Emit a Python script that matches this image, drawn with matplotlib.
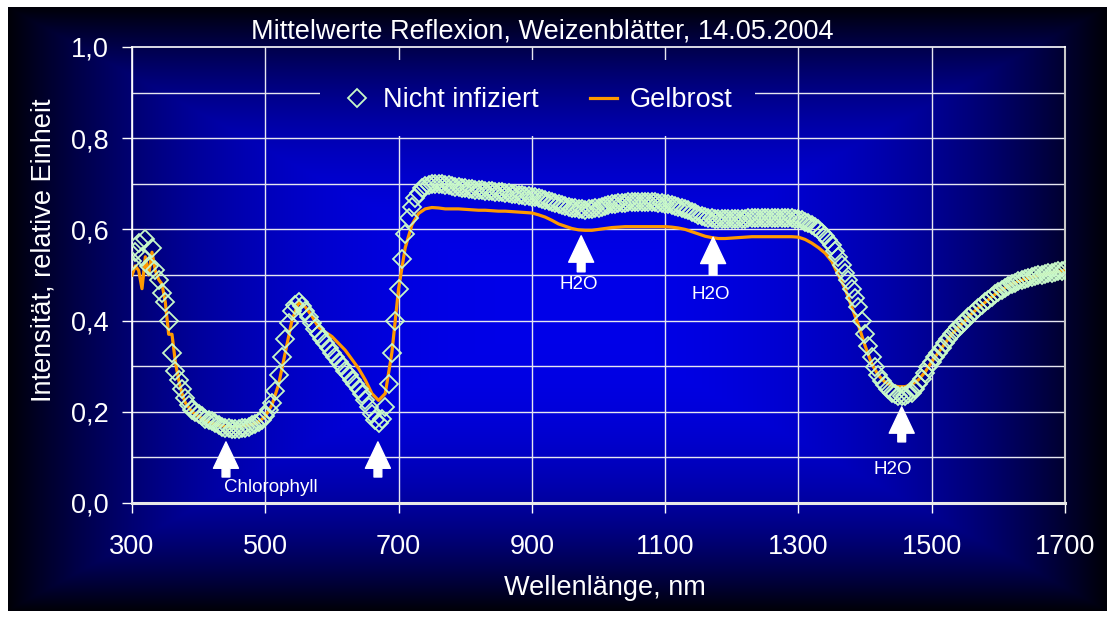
import numpy as np
import matplotlib
matplotlib.use("Agg")
import matplotlib.pyplot as plt
from matplotlib.path import Path

plt.rcParams['font.family'] = ['Liberation Sans', 'DejaVu Sans']

# Nicht infiziert: read every 5 nm from 300 to 1700 nm
wl_nicht = np.arange(300, 1701, 5)
nicht_infiziert = [
    0.53, 0.55, 0.57, 0.54, 0.58, 0.52, 0.56, 0.51, 0.49, 0.46,            # 300
    0.44, 0.40, 0.33, 0.29, 0.27, 0.25, 0.23, 0.215, 0.205, 0.20,          # 350
    0.195, 0.19, 0.185, 0.182, 0.18, 0.175, 0.17, 0.167, 0.165, 0.164,     # 400
    0.163, 0.163, 0.163, 0.164, 0.165, 0.167, 0.17, 0.174, 0.178, 0.183,   # 450
    0.19, 0.203, 0.22, 0.245, 0.28, 0.32, 0.36, 0.395, 0.42, 0.435,        # 500
    0.44, 0.432, 0.42, 0.408, 0.395, 0.382, 0.37, 0.36, 0.35, 0.34,        # 550
    0.33, 0.32, 0.31, 0.30, 0.29, 0.28, 0.27, 0.26, 0.25, 0.238,           # 600
    0.225, 0.21, 0.195, 0.182, 0.175, 0.185, 0.21, 0.26, 0.33, 0.40,       # 650
    0.47, 0.535, 0.59, 0.625, 0.65, 0.668, 0.68, 0.69, 0.695, 0.698,       # 700
    0.70, 0.70, 0.70, 0.699, 0.698, 0.697, 0.695, 0.694, 0.692, 0.691,     # 750
    0.69, 0.689, 0.688, 0.687, 0.686, 0.686, 0.685, 0.685, 0.684, 0.683,   # 800
    0.682, 0.681, 0.68, 0.679, 0.678, 0.677, 0.676, 0.675, 0.674, 0.673,   # 850
    0.672, 0.67, 0.668, 0.666, 0.664, 0.662, 0.66, 0.658, 0.656, 0.654,    # 900
    0.652, 0.65, 0.648, 0.646, 0.645, 0.644, 0.643, 0.644, 0.645, 0.646,   # 950
    0.648, 0.65, 0.652, 0.654, 0.655, 0.656, 0.657, 0.658, 0.658, 0.659,   # 1000
    0.659, 0.66, 0.66, 0.66, 0.66, 0.66, 0.66, 0.659, 0.658, 0.657,        # 1050
    0.656, 0.655, 0.654, 0.652, 0.65, 0.648, 0.645, 0.642, 0.638, 0.635,   # 1100
    0.632, 0.63, 0.627, 0.625, 0.624, 0.623, 0.622, 0.622, 0.622, 0.622,   # 1150
    0.622, 0.622, 0.622, 0.623, 0.623, 0.624, 0.624, 0.625, 0.625, 0.625,  # 1200
    0.625, 0.626, 0.626, 0.626, 0.626, 0.626, 0.625, 0.625, 0.624, 0.623,  # 1250
    0.622, 0.62, 0.617, 0.614, 0.61, 0.605, 0.60, 0.593, 0.585, 0.576,     # 1300
    0.565, 0.553, 0.54, 0.523, 0.505, 0.488, 0.47, 0.45, 0.43, 0.40,       # 1350
    0.37, 0.345, 0.32, 0.298, 0.28, 0.268, 0.258, 0.25, 0.242, 0.238,      # 1400
    0.235, 0.234, 0.235, 0.238, 0.242, 0.25, 0.26, 0.272, 0.285, 0.298,    # 1450
    0.31, 0.32, 0.33, 0.34, 0.35, 0.36, 0.37, 0.378, 0.385, 0.393,         # 1500
    0.40, 0.408, 0.415, 0.422, 0.428, 0.434, 0.44, 0.446, 0.452, 0.458,    # 1550
    0.463, 0.468, 0.472, 0.476, 0.48, 0.483, 0.486, 0.489, 0.491, 0.493,   # 1600
    0.495, 0.497, 0.499, 0.501, 0.502, 0.504, 0.505, 0.507, 0.508, 0.509,  # 1650
    0.51,                                                                  # 1700
]

# Gelbrost: 5 nm steps below 400, 10 nm steps above
wl_gelb = np.concatenate([np.arange(300, 400, 5), np.arange(400, 1701, 10)])
gelbrost = [
    0.50, 0.52, 0.51, 0.47, 0.54, 0.50, 0.55, 0.51, 0.49, 0.48,          # 300-345
    0.44, 0.37, 0.37, 0.31, 0.27, 0.24, 0.22, 0.21, 0.20, 0.195,         # 350-395
    0.19, 0.18, 0.175, 0.17, 0.168, 0.167, 0.168, 0.17, 0.172, 0.178,    # 400-490
    0.19, 0.215, 0.26, 0.33, 0.40, 0.44, 0.43, 0.41, 0.385, 0.375,       # 500-590
    0.365, 0.35, 0.335, 0.315, 0.295, 0.27, 0.24, 0.225, 0.24, 0.33,     # 600-690
    0.47, 0.56, 0.61, 0.635, 0.645, 0.648, 0.647, 0.645, 0.645, 0.645,   # 700-790
    0.644, 0.643, 0.642, 0.642, 0.641, 0.64, 0.64, 0.639, 0.638, 0.637,  # 800-890
    0.636, 0.632, 0.627, 0.62, 0.612, 0.607, 0.602, 0.599, 0.598, 0.598, # 900-990
    0.60, 0.602, 0.604, 0.605, 0.606, 0.606, 0.606, 0.606, 0.606, 0.606, # 1000-1090
    0.606, 0.605, 0.603, 0.60, 0.595, 0.59, 0.585, 0.582, 0.58, 0.58,    # 1100-1190
    0.581, 0.582, 0.583, 0.584, 0.584, 0.584, 0.584, 0.584, 0.584, 0.584, # 1200-1290
    0.583, 0.578, 0.57, 0.56, 0.548, 0.53, 0.50, 0.47, 0.43, 0.39,       # 1300-1390
    0.345, 0.305, 0.28, 0.265, 0.258, 0.255, 0.255, 0.26, 0.27, 0.287,   # 1400-1490
    0.31, 0.33, 0.35, 0.37, 0.385, 0.40, 0.415, 0.428, 0.44, 0.452,      # 1500-1590
    0.463, 0.472, 0.48, 0.486, 0.491, 0.495, 0.499, 0.502, 0.505, 0.508, # 1600-1690
    0.51,                                                                # 1700
]

x_ticks = [300, 500, 700, 900, 1100, 1300, 1500, 1700]
y_ticks = [0.0, 0.2, 0.4, 0.6, 0.8, 1.0]
y_ticklabels = ['0,0', '0,2', '0,4', '0,6', '0,8', '1,0']

# annotation arrows: (nm, tip value, tail value); labels: (text, nm, value)
arrows = [(441, 0.134, 0.057), (669, 0.134, 0.057), (974, 0.586, 0.507),
          (1172, 0.583, 0.50), (1455, 0.211, 0.134)]
labels = [('Chlorophyll', 509, 0.033), ('H2O', 971, 0.479),
          ('H2O', 1169, 0.457), ('H2O', 1441, 0.073)]

W, H = 1107, 621
fig = plt.figure(figsize=(W / 100, H / 100), dpi=100, facecolor='white')

# gradient background panel (bright blue centre, dark edges)
bg = fig.add_axes([8 / W, (H - 611) / H, (W - 8) / W, (611 - 7) / H], zorder=0)
gx = np.linspace(-1, 1, 600)
gy = np.linspace(-1, 1, 400)
U, V = np.meshgrid(gx, gy)
t = np.maximum(np.abs(U), np.abs(V))
b = 225 * (1 - t ** 2.5) + 8
img = np.zeros((400, 600, 3))
img[..., 2] = np.clip(b, 0, 255) / 255
bg.imshow(img, aspect='auto', extent=(0, 1, 0, 1), interpolation='bilinear')
bg.set_axis_off()

ax = fig.add_axes([132 / W, (H - 503) / H, (1065 - 132) / W, (503 - 47) / H], zorder=1)
ax.patch.set_alpha(0)

ax.plot(wl_gelb, gelbrost, color='#ff9900', lw=2.3, zorder=3, label='Gelbrost')
ax.plot(wl_nicht, nicht_infiziert, linestyle='none', marker='D', ms=9.3,
        mfc='none', mec='#c8f8c8', mew=1.3, zorder=4, label='Nicht infiziert')

ax.set_xlim(300, 1700)
ax.set_ylim(0, 1.0)
ax.set_xticks(x_ticks)
ax.set_yticks(y_ticks)
ax.set_yticklabels(y_ticklabels)
ax.tick_params(axis='both', colors='white', labelsize=19.5, length=7, width=1,
               direction='out')
ax.tick_params(axis='x', pad=15)
ax.tick_params(axis='y', pad=10)

for side in ['left', 'top']:
    ax.spines[side].set_color('white')
    ax.spines[side].set_linewidth(1.2)
ax.spines['right'].set_color('#c8c8c8')
ax.spines['right'].set_linewidth(1.5)
ax.spines['bottom'].set_color('#e8e8e8')
ax.spines['bottom'].set_linewidth(2.2)

# grid lines, with a gap where the legend sits
vl = ax.vlines(x_ticks, 0, 1, colors='#e6e6f0', lw=1, zorder=1)
hl = ax.hlines(np.arange(0.1, 1.0, 0.1), 300, 1700, colors='#e6e6f0', lw=1, zorder=1)
ox0, ox1, oy0, oy1 = 120 / W, 1080 / W, 1 - 515 / H, 1 - 40 / H
lx0, lx1, ly0, ly1 = 320 / W, 755 / W, 1 - 136 / H, 1 - 60 / H
verts = [(ox0, oy0), (ox1, oy0), (ox1, oy1), (ox0, oy1), (ox0, oy0),
         (lx0, ly0), (lx0, ly1), (lx1, ly1), (lx1, ly0), (lx0, ly0)]
codes = [Path.MOVETO, Path.LINETO, Path.LINETO, Path.LINETO, Path.CLOSEPOLY] * 2
clip = Path(verts, codes)
vl.set_clip_path(clip, fig.transFigure)
hl.set_clip_path(clip, fig.transFigure)

handles, labs = ax.get_legend_handles_labels()
fig.legend(handles[::-1], labs[::-1], loc='center',
           bbox_to_anchor=(538 / W, 1 - 100 / H), ncol=2, frameon=False,
           fontsize=19.5, handlelength=1.0, handletextpad=0.45,
           columnspacing=1.9, labelcolor='white')

for nm, tip, tail in arrows:
    ax.annotate('', xy=(nm, tip), xytext=(nm, tail),
                arrowprops=dict(arrowstyle='simple,head_length=0.95,head_width=0.9,tail_width=0.28',
                                fc='white', ec='white', lw=1, mutation_scale=20,
                                shrinkA=0, shrinkB=0),
                zorder=5)
for txt, nm, val in labels:
    ax.text(nm, val, txt, color='white', fontsize=13.5, ha='center', va='center', zorder=5)

fig.text(542 / W, 1 - 31 / H, 'Mittelwerte Reflexion, Weizenblätter, 14.05.2004',
         color='white', fontsize=19.5, ha='center', va='center')
fig.text(605 / W, 1 - 588 / H, 'Wellenlänge, nm', color='white', fontsize=19.5,
         ha='center', va='center')
fig.text(44 / W, 1 - 250 / H, 'Intensität, relative Einheit', color='white',
         fontsize=19.5, ha='center', va='center', rotation=90)

fig.savefig('out.png', dpi=100, facecolor='white')
